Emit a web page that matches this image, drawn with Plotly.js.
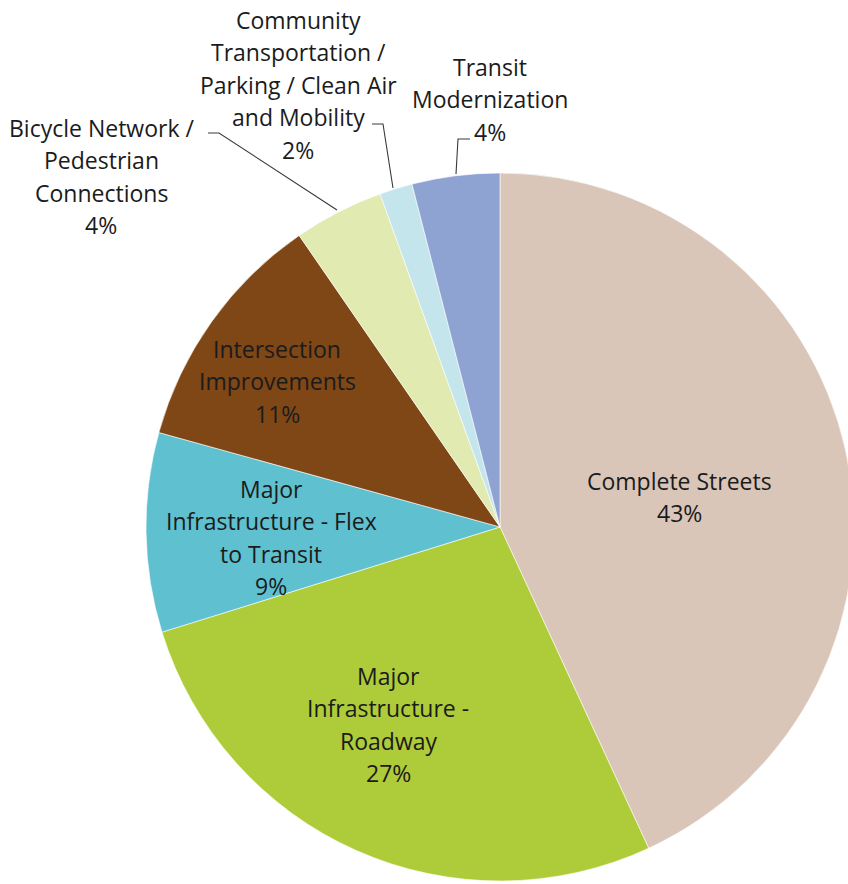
<!DOCTYPE html>
<html>
<head>
<meta charset="utf-8">
<script src="https://cdn.plot.ly/plotly-3.0.1.min.js"></script>
<style>
html, body { margin: 0; padding: 0; overflow: hidden; background: #fff; }
#chart { width: 860px; height: 884px; }
</style>
</head>
<body>
<div id="chart"></div>
<script>
// ---- data ----
const categories = [
  "Complete Streets",
  "Major Infrastructure - Roadway",
  "Major Infrastructure - Flex to Transit",
  "Intersection Improvements",
  "Bicycle Network / Pedestrian Connections",
  "Community Transportation / Parking / Clean Air and Mobility",
  "Transit Modernization"
];
const values = [43.1, 27.1, 9.1, 11.1, 4.1, 1.5, 4.0];
const sliceColors = ["#D9C6B9", "#AECB3A", "#5FC0D0", "#7F4616", "#E0EAB1", "#C3E5EB", "#8FA3D3"];
const labelLines = [
  ["Complete Streets"],
  ["Major", "Infrastructure -", "Roadway"],
  ["Major", "Infrastructure - Flex", "to Transit"],
  ["Intersection", "Improvements"],
  ["Bicycle Network /", "Pedestrian", "Connections"],
  ["Community", "Transportation /", "Parking / Clean Air", "and Mobility"],
  ["Transit", "Modernization"]
];

// ---- layout helpers ----
const W = 860, H = 884;
const px = x => x / W;
const py = y => 1 - y / H;
const FONT = { family: "'Open Sans', Lato, sans-serif", size: 23, color: "#1b1b1b" };
const LINE = 32.4;
// label block placement (pixel centre x, first line centre y)
const labelPos = [
  [679, 481], [388, 676], [271, 489], [277, 349], [101, 128], [298, 20], [490, 67]
];

const total = values.reduce((a, b) => a + b, 0);
const annotations = [];
categories.forEach((c, i) => {
  const lines = labelLines[i].concat([Math.round(values[i] / total * 100) + "%"]);
  lines.forEach((t, j) => {
    annotations.push({
      xref: "paper", yref: "paper",
      x: px(labelPos[i][0]), y: py(labelPos[i][1] + j * LINE),
      xanchor: "center", yanchor: "middle",
      text: t, showarrow: false, font: FONT
    });
  });
});

// leader lines (pixel polylines)
const leaders = [
  [[208, 133], [219, 133], [337, 210]],
  [[372, 124], [383, 124], [393, 188]],
  [[470, 139], [458, 139], [456, 174]]
];
const shapes = leaders.map(pts => ({
  type: "path", xref: "paper", yref: "paper",
  path: pts.map((p, k) => (k ? "L" : "M") + px(p[0]) + "," + py(p[1])).join(" "),
  line: { color: "#3a3a3a", width: 1.1 }
}));

const trace = {
  type: "pie",
  labels: categories,
  values: values,
  sort: false,
  direction: "clockwise",
  rotation: 0,
  textinfo: "none",
  hoverinfo: "label+percent",
  marker: { colors: sliceColors, line: { color: "#ffffff", width: 0.6 } },
  domain: { x: [146 / W, 854 / W], y: [3 / H, 711 / H] },
  showlegend: false
};

Plotly.newPlot("chart", [trace], {
  width: W, height: H,
  margin: { l: 0, r: 0, t: 0, b: 0 },
  paper_bgcolor: "#ffffff",
  showlegend: false,
  annotations: annotations,
  shapes: shapes
}, { displayModeBar: false, staticPlot: true });
</script>
</body>
</html>
